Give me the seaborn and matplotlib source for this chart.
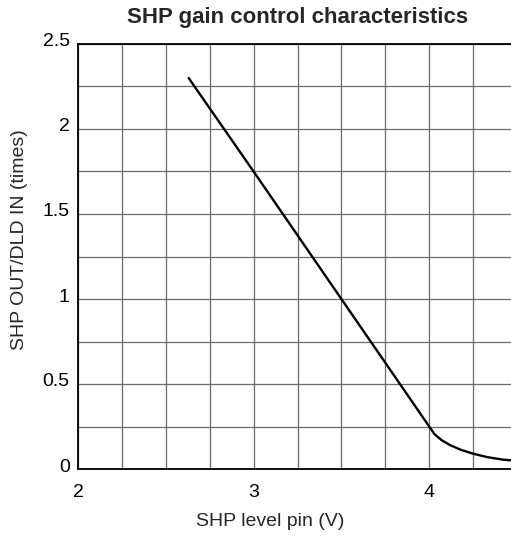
import matplotlib
matplotlib.use("Agg")
import matplotlib.pyplot as plt
import matplotlib.transforms as mtransforms
import seaborn as sns
import numpy as np
import pandas as pd

title = "SHP gain control characteristics"
x_label = "SHP level pin (V)"
y_label = "SHP OUT/DLD IN (times)"

volts = [2.63, 3.0, 3.5, 4.0, 4.03, 4.07, 4.12, 4.18, 4.25, 4.33, 4.42, 4.5]
gain = [2.3, 1.75, 1.0, 0.25, 0.205, 0.17, 0.14, 0.113, 0.09, 0.07, 0.055, 0.048]

x_ticks = [2, 3, 4]
x_tick_labels = ["2", "3", "4"]
y_ticks = [0, 0.5, 1, 1.5, 2, 2.5]
y_tick_labels = ["0", "0.5", "1", "1.5", "2", "2.5"]

sns.set_style("white")
plt.rcParams['font.family'] = ['Liberation Sans', 'DejaVu Sans']

fig = plt.figure(figsize=(5.11, 5.38), dpi=100)
ax = fig.add_axes([78/511, 69/538, 439/511, 425/538])

df = pd.DataFrame({"v": volts, "g": gain})
sns.lineplot(data=df, x="v", y="g", ax=ax, color="black", linewidth=1.7, zorder=3)

ax.set_xlim(2, 4.5)
ax.set_ylim(0, 2.5)
ax.set_xticks(np.arange(2, 4.51, 0.25), minor=True)
ax.set_yticks(np.arange(0, 2.51, 0.25), minor=True)
ax.set_xticks(x_ticks)
ax.set_xticklabels(x_tick_labels)
ax.set_yticks(y_ticks)
ax.set_yticklabels(y_tick_labels)
ax.grid(True, which="both", color="#6a6a6a", linewidth=0.9)
ax.tick_params(which="both", length=0, labelsize=14, colors="black")
ax.tick_params(axis="x", pad=11)
ax.tick_params(axis="y", pad=6)

shift = mtransforms.ScaledTranslation(0, 4/100, fig.dpi_scale_trans)
for lbl in ax.get_yticklabels():
    lbl.set_transform(lbl.get_transform() + shift)

for s in ["left", "bottom", "top", "right"]:
    ax.spines[s].set_color("black")
    ax.spines[s].set_linewidth(1.3)

ax.set_xlabel(x_label, fontsize=14)
ax.set_ylabel(y_label, fontsize=14)
ax.xaxis.set_label_coords((270 - 78) / 439, -(522 - 469) / 425)
ax.yaxis.set_label_coords(-(78 - 20) / 439, (469 - 240) / 425)
ax.xaxis.label.set_va("center")
ax.yaxis.label.set_va("center")
fig.text(298/511, 1 - 18/538, title, ha="center", va="center", fontsize=16, fontweight="bold")

fig.savefig("out.png", dpi=100)
